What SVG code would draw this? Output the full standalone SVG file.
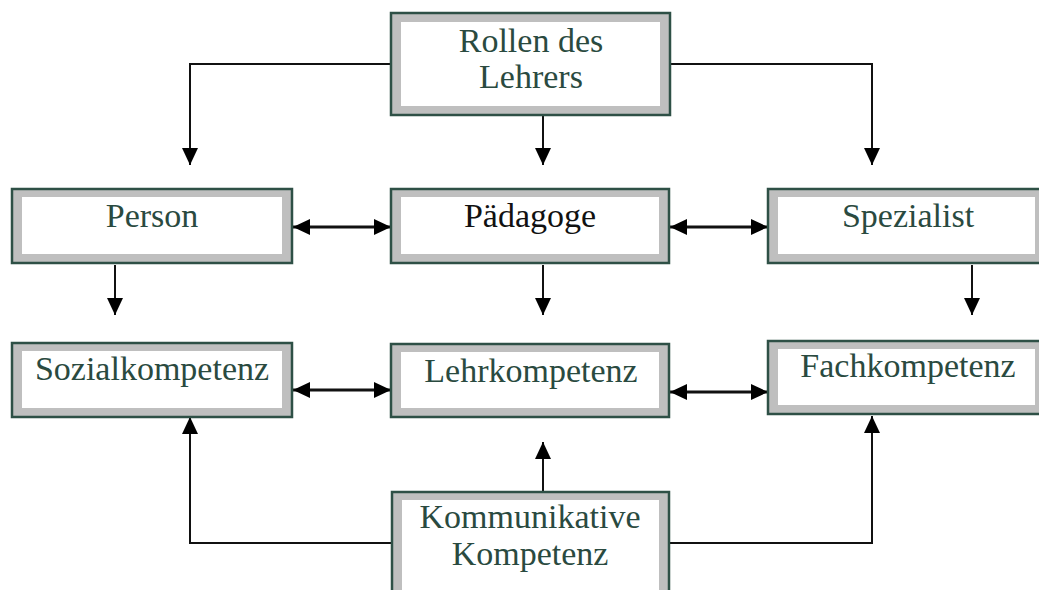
<svg xmlns="http://www.w3.org/2000/svg" width="1039" height="590" viewBox="0 0 1039 590">
<style>
.outer{fill:#bfbfbf;stroke:#2e5046;stroke-width:2.5}
.inner{fill:#ffffff}
.t{font-family:"Liberation Serif","Times New Roman",serif;font-size:34px;fill:#2a4a40;text-anchor:middle}
.tb{fill:#111}
.c{fill:none;stroke:#111;stroke-width:2}
.c3{fill:none;stroke:#111;stroke-width:3}
</style>
<defs>
<marker id="ah" markerUnits="userSpaceOnUse" markerWidth="17" markerHeight="16" refX="17" refY="8" orient="auto-start-reverse" viewBox="0 0 17 16">
<path d="M0,0 L17,8 L0,16 z" fill="#000"/>
</marker>
</defs>
<rect width="1039" height="590" fill="#fff"/>
<g id="connectors">
<path class="c" d="M391,64 H190 V165" marker-end="url(#ah)"/>
<path class="c" d="M670,64 H872 V165" marker-end="url(#ah)"/>
<path class="c" d="M543,115 V165" marker-end="url(#ah)"/>
<path class="c3" d="M293,227 H391" marker-start="url(#ah)" marker-end="url(#ah)"/>
<path class="c3" d="M670,227 H768" marker-start="url(#ah)" marker-end="url(#ah)"/>
<path class="c" d="M115,265 V315" marker-end="url(#ah)"/>
<path class="c" d="M543,265 V315" marker-end="url(#ah)"/>
<path class="c" d="M972,265 V315" marker-end="url(#ah)"/>
<path class="c3" d="M293,390 H391" marker-start="url(#ah)" marker-end="url(#ah)"/>
<path class="c3" d="M670,392 H768" marker-start="url(#ah)" marker-end="url(#ah)"/>
<path class="c" d="M543,492 V442" marker-end="url(#ah)"/>
<path class="c" d="M392,543 H190 V417" marker-end="url(#ah)"/>
<path class="c" d="M669,543 H872 V416" marker-end="url(#ah)"/>
</g>
<g id="rollen">
<rect class="outer" x="391" y="13" width="279" height="102"/>
<rect class="inner" x="401" y="22" width="259" height="84"/>
<text class="t" x="531" y="52">Rollen des</text>
<text class="t" x="531" y="88">Lehrers</text>
</g>
<g id="person">
<rect class="outer" x="12" y="189" width="280" height="74"/>
<rect class="inner" x="22" y="197" width="260" height="57"/>
<text class="t" x="152" y="227">Person</text>
</g>
<g id="paedagoge">
<rect class="outer" x="391" y="189" width="278" height="74"/>
<rect class="inner" x="401" y="197" width="258" height="57"/>
<text class="t tb" x="530" y="227">Pädagoge</text>
</g>
<g id="spezialist">
<rect class="outer" x="768" y="189" width="282" height="74"/>
<rect class="inner" x="778" y="197" width="257" height="57"/>
<text class="t" x="908" y="227">Spezialist</text>
</g>
<g id="sozialkompetenz">
<rect class="outer" x="12" y="343" width="280" height="74"/>
<rect class="inner" x="22" y="351" width="260" height="57"/>
<text class="t" x="152" y="380">Sozialkompetenz</text>
</g>
<g id="lehrkompetenz">
<rect class="outer" x="391" y="344" width="278" height="73"/>
<rect class="inner" x="401" y="352" width="258" height="56"/>
<text class="t" x="531" y="382">Lehrkompetenz</text>
</g>
<g id="fachkompetenz">
<rect class="outer" x="768" y="341" width="282" height="73"/>
<rect class="inner" x="778" y="349" width="257" height="56"/>
<text class="t" x="908" y="377">Fachkompetenz</text>
</g>
<g id="kommunikative">
<rect class="outer" x="392" y="492" width="277" height="110"/>
<rect class="inner" x="402" y="500" width="257" height="110"/>
<text class="t" x="530" y="528">Kommunikative</text>
<text class="t" x="530" y="565">Kompetenz</text>
</g>
</svg>
